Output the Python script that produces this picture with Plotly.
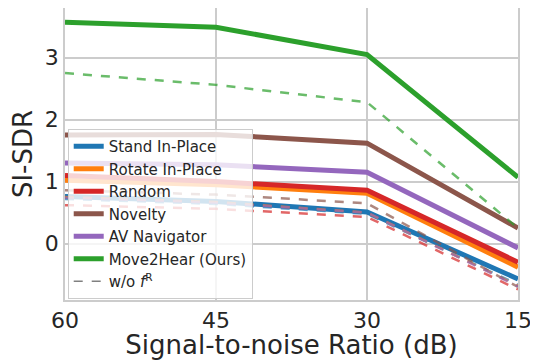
import plotly.graph_objects as go

snr = [60, 45, 30, 15]
methods = ["Stand In-Place", "Rotate In-Place", "Random", "Novelty", "AV Navigator", "Move2Hear (Ours)"]
colors = ["#1f77b4", "#ff7f0e", "#d62728", "#8c564b", "#9467bd", "#2ca02c"]
with_fr = [
    [0.76, 0.68, 0.51, -0.57],
    [1.02, 0.95, 0.81, -0.38],
    [1.10, 1.00, 0.86, -0.30],
    [1.75, 1.76, 1.62, 0.25],
    [1.30, 1.27, 1.15, -0.07],
    [3.57, 3.49, 3.05, 1.07],
]
without_fr = [
    [0.72, 0.64, 0.48, -0.66],
    [0.75, 0.67, 0.50, -0.68],
    [0.62, 0.56, 0.43, -0.74],
    [0.86, 0.79, 0.65, -0.70],
    [0.74, 0.66, 0.50, -0.69],
    [2.75, 2.56, 2.28, 0.25],
]
x_ticks = [60, 45, 30, 15]
y_ticks = [0, 1, 2, 3]

font_family = "DejaVu Sans"
fig = go.Figure()
for name, c, ys, yd in zip(methods, colors, with_fr, without_fr):
    fig.add_trace(go.Scatter(x=snr, y=ys, mode="lines", name=name,
                             line=dict(color=c, width=5), legendgroup=name))
    fig.add_trace(go.Scatter(x=snr, y=yd, mode="lines", showlegend=False,
                             line=dict(color=c, width=2.5, dash="dash"), opacity=0.7,
                             legendgroup=name))
fig.add_trace(go.Scatter(x=[None], y=[None], mode="lines", name="w/o <i>f</i><sup>R</sup>",
                         line=dict(color="gray", width=1.5, dash="dash")))

# page body has an 8px default margin; size the figure to compensate
fig.update_layout(
    width=530, height=352,
    margin=dict(l=57, r=20, t=0, b=60, autoexpand=False),
    paper_bgcolor="white", plot_bgcolor="white",
    font=dict(family=font_family, color="#262626"),
    showlegend=True,
    legend=dict(x=0.006, y=0.003, xanchor="left", yanchor="bottom",
                bgcolor="rgba(255,255,255,0.8)", bordercolor="#cccccc", borderwidth=1,
                font=dict(size=15, family=font_family, color="#262626"),
                tracegroupgap=0, itemwidth=30),
    xaxis=dict(range=[60, 15], tickvals=x_ticks, ticktext=[str(v) for v in x_ticks],
               showgrid=True, gridcolor="#cccccc", gridwidth=1.5,
               showline=True, linecolor="#cccccc", linewidth=1.5, mirror=True,
               zeroline=False, ticks="", tickfont=dict(size=22), automargin=False,
               title=dict(text="Signal-to-noise Ratio (dB)", font=dict(size=26), standoff=12)),
    yaxis=dict(range=[-0.91, 3.80], tickvals=y_ticks,
               showgrid=True, gridcolor="#cccccc", gridwidth=1.5,
               showline=True, linecolor="#cccccc", linewidth=1.5, mirror=True,
               zeroline=False, ticks="", tickfont=dict(size=22), automargin=False,
               title=dict(text="SI-SDR", font=dict(size=26), standoff=6)),
)
fig.write_html("out.html")
